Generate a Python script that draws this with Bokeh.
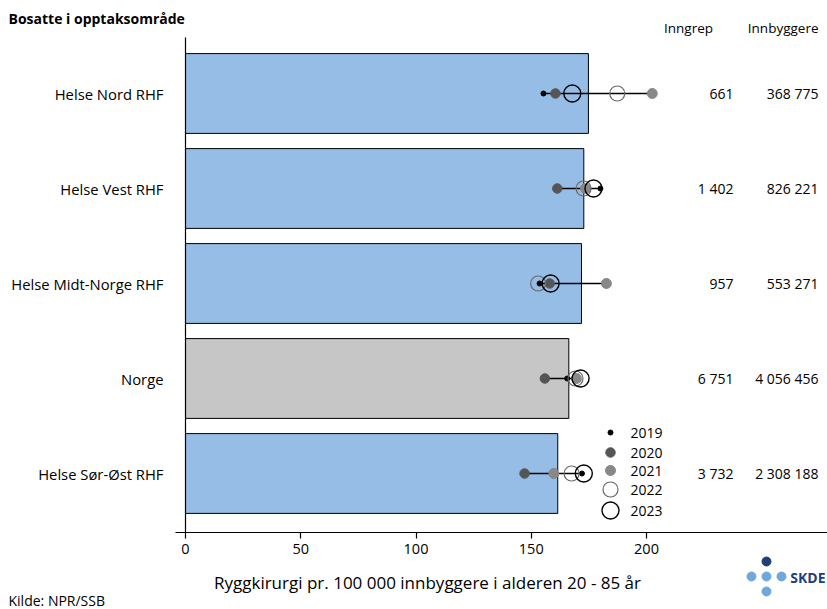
import numpy as np
from bokeh.plotting import figure
from bokeh.models import ColumnDataSource, Range1d, FixedTicker
from bokeh.core.properties import value
from bokeh.embed import file_html
from bokeh.resources import INLINE

# ---------------- data ----------------
regions = ["Helse Nord RHF", "Helse Vest RHF", "Helse Midt-Norge RHF", "Norge", "Helse Sør-Øst RHF"]
rate_mean = [174.8, 172.8, 171.8, 166.3, 161.5]
rate_2019 = [155.3, 180.0, 153.6, 165.6, 172.0]
rate_2020 = [160.5, 161.3, 158.0, 155.9, 147.1]
rate_2021 = [202.5, 173.5, 182.6, 169.6, 159.8]
rate_2022 = [187.3, 172.7, 153.0, 169.2, 167.5]
rate_2023 = [167.8, 177.0, 158.4, 171.4, 172.8]
inngrep = [661, 1402, 957, 6751, 3732]
innbyggere = [368775, 826221, 553271, 4056456, 2308188]
years = ["2019", "2020", "2021", "2022", "2023"]
x_ticks = [0, 50, 100, 150, 200]

FONT = "Open Sans"
W, H = 827, 609

def fmt(n):
    return f"{n:,}".replace(",", " ")

ypos = list(range(len(regions) - 1, -1, -1))
bar_colors = ["#C6C6C6" if r == "Norge" else "#95BDE6" for r in regions]
allv = np.array([rate_2019, rate_2020, rate_2021, rate_2022, rate_2023])

src = ColumnDataSource(dict(
    y=ypos, region=regions, mean=rate_mean, color=bar_colors,
    r19=rate_2019, r20=rate_2020, r21=rate_2021, r22=rate_2022, r23=rate_2023,
    lo=allv.min(axis=0), hi=allv.max(axis=0),
    inn=[fmt(v) for v in inngrep], bef=[fmt(v) for v in innbyggere],
))

# ---------------- geometry (canvas px from top-left) ----------------
PX_PER_X = 2.305
X0_PX = 185.0            # where x = 0 sits
PX_PER_Y = 95.0
TOP_PX, BOT_PX = 37, 532  # vertical extent of the category area
y_top = 4 + 56 / PX_PER_Y

def dx(px):
    return (px - X0_PX) / PX_PER_X

def dy(px):
    return y_top - (px - TOP_PX) / PX_PER_Y

p = figure(width=W, height=H, output_backend="svg", toolbar_location=None,
           x_range=Range1d(dx(0), dx(W)), y_range=Range1d(dy(H), dy(0)),
           y_axis_location=None,
           min_border_left=0, min_border_right=0, min_border_top=0, min_border_bottom=0)
p.outline_line_color = None
p.xgrid.visible = False
p.ygrid.visible = False
p.background_fill_color = "white"
p.border_fill_color = "white"

# x axis drawn at the bottom of the category area
ax = p.xaxis[0]
ax.fixed_location = dy(BOT_PX)
ax.bounds = (dx(175), dx(W))
ax.ticker = FixedTicker(ticks=x_ticks)
ax.minor_tick_line_color = None
ax.major_tick_in = 0
ax.major_tick_out = 6
ax.axis_line_color = "black"
ax.axis_line_width = 1.2
ax.major_tick_line_width = 1.2
ax.major_label_text_font = FONT
ax.major_label_text_font_size = "14.5px"
ax.major_label_text_color = "black"
ax.major_label_standoff = 5

# bars
p.hbar(y="y", left=0, right="mean", height=0.84, source=src,
       fill_color="color", line_color="black", line_width=1)

# vertical axis line at x = 0
p.segment(x0=[0], y0=[dy(BOT_PX)], x1=[0], y1=[dy(TOP_PX)], line_color="black", line_width=1.2)

# range line
p.segment(x0="lo", y0="y", x1="hi", y1="y", source=src, line_color="black", line_width=1.6)

def year_marks(xs, ys, src_=None):
    kw = dict(source=src_) if src_ is not None else {}
    p.scatter(x=xs[0], y=ys[0], size=5, color="black", **kw)
    p.scatter(x=xs[1], y=ys[1], size=9.5, fill_color="#555555", line_color="#555555", **kw)
    p.scatter(x=xs[2], y=ys[2], size=10, fill_color="#888888", line_color="#888888", **kw)
    p.scatter(x=xs[3], y=ys[3], size=15, fill_alpha=0, line_color="#6a6a6a", line_width=1.2, **kw)
    p.scatter(x=xs[4], y=ys[4], size=17, fill_alpha=0, line_color="black", line_width=1.4, **kw)

year_marks(["r19", "r20", "r21", "r22", "r23"], ["y"] * 5, src)

def txt(x, y, text, size="14px", align="left", bold=False, color="black", source=None):
    kw = dict(source=source) if source is not None else {}
    p.text(x=x, y=y, text=text, text_align=align, text_baseline="middle",
           text_font=value(FONT), text_font_size=size, text_color=color,
           text_font_style="bold" if bold else "normal", **kw)

# category labels (left)
txt(dx(163), "y", "region", size="14.8px", align="right", source=src)

# right-hand columns
txt(dx(733), "y", "inn", align="right", source=src)
txt(dx(818), "y", "bef", align="right", source=src)
txt([dx(688)], [dy(27)], ["Inngrep"], size="13.5px", align="center")
txt([dx(818)], [dy(27)], ["Innbyggere"], size="13.5px", align="right")

# title, axis title, source
txt([dx(8)], [dy(18)], ["Bosatte i opptaksområde"], size="14px", bold=True)
txt([dx(427)], [dy(582)], ["Ryggkirurgi pr. 100 000 innbyggere i alderen 20 - 85 år"],
    size="17px", align="center")
txt([dx(8)], [dy(600)], ["Kilde: NPR/SSB"], size="14px")

# legend (manual)
leg_y_px = [432, 452, 470, 489, 510]
leg_x_px = 610
ly = [dy(v) for v in leg_y_px]
year_marks([[dx(leg_x_px)]] * 5, [[v] for v in ly])
txt([dx(leg_x_px + 20)] * 5, ly, years)

# SKDE logo
p.scatter(x=[dx(766)], y=[dy(561)], size=9, color="#1F3F7A")
p.scatter(x=[dx(751), dx(766), dx(781), dx(766)], y=[dy(576), dy(576), dy(576), dy(591)],
          size=9, color="#6FA8DC")
txt([dx(825)], [dy(577)], ["SKDE"], size="14px", bold=True, color="#1F3F7A", align="right")

open("out.html", "w").write(file_html(p, INLINE))
